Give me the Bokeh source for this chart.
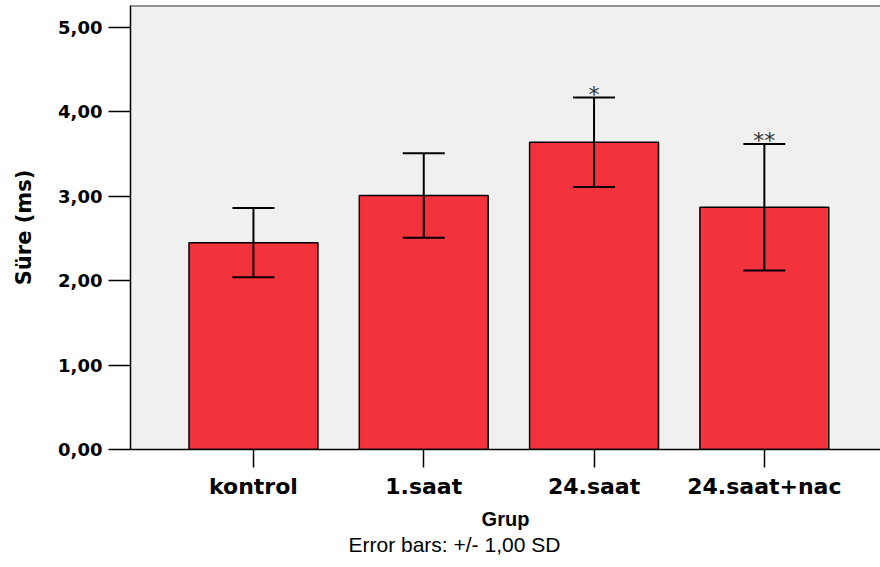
from bokeh.plotting import figure
from bokeh.models import (ColumnDataSource, Whisker, TeeHead, Range1d, FixedTicker,
                          Title, Span)
from bokeh.core.properties import value
from bokeh.embed import file_html
from bokeh.resources import INLINE

# ---- data ----
groups = ["kontrol", "1.saat", "24.saat", "24.saat+nac"]
means = [2.45, 3.01, 3.64, 2.87]
sds = [0.41, 0.50, 0.53, 0.75]
sig_marks = ["", "", "*", "**"]
y_ticks = [0, 1, 2, 3, 4, 5]
y_tick_labels = ["0,00", "1,00", "2,00", "3,00", "4,00", "5,00"]
y_title = "Süre (ms)"
x_title = "Grup"
footnote = "Error bars: +/- 1,00 SD"

xpos = list(range(1, len(groups) + 1))
src = ColumnDataSource(dict(
    x=xpos, mean=means,
    upper=[m + s for m, s in zip(means, sds)],
    lower=[m - s for m, s in zip(means, sds)],
    sig=sig_marks,
))

p = figure(width=880, height=567, output_backend="svg", toolbar_location=None,
           x_range=Range1d(0.278, 4.682), y_range=Range1d(0, 5.26),
           min_border_left=130, min_border_right=0, min_border_top=5,
           min_border_bottom=118)
p.background_fill_color = "#F0F0F0"
p.border_fill_color = "white"
p.outline_line_color = None
p.grid.visible = False

p.vbar(x="x", top="mean", width=0.757, source=src, fill_color="#F2333B",
       line_color="black", line_width=1.5)

w = Whisker(source=src, base="x", upper="upper", lower="lower",
            line_width=2, line_color="black", level="annotation",
            upper_head=TeeHead(size=42, line_width=2, line_color="black"),
            lower_head=TeeHead(size=42, line_width=2, line_color="black"))
p.add_layout(w)

p.text(x="x", y="upper", text="sig", source=src, text_align="center",
       text_baseline="alphabetic", text_font=value("DejaVu Sans"),
       text_font_size="22px", text_color="#333333", y_offset=-3)

# top border
p.add_layout(Span(location=5.26, dimension="width", line_color="#333333", line_width=2))

# y axis
ya = p.yaxis[0]
ya.ticker = FixedTicker(ticks=y_ticks)
ya.major_label_overrides = {t: l for t, l in zip(y_ticks, y_tick_labels)}
ya.major_label_text_font = "DejaVu Sans"
ya.major_label_text_font_style = "bold"
ya.major_label_text_font_size = "18px"
ya.major_label_text_color = "black"
ya.major_tick_out = 22
ya.major_tick_in = 0
ya.minor_tick_line_color = None
ya.major_tick_line_width = 1.5
ya.axis_line_width = 1.5
ya.axis_line_color = "black"
ya.major_tick_line_color = "black"
ya.major_label_standoff = 6
ya.axis_label = y_title
ya.axis_label_text_font = "DejaVu Sans"
ya.axis_label_text_font_style = "bold"
ya.axis_label_text_font_size = "21px"
ya.axis_label_text_color = "black"
ya.axis_label_standoff = 19

# x axis
xa = p.xaxis[0]
xa.ticker = FixedTicker(ticks=xpos)
xa.major_label_overrides = {x: g for x, g in zip(xpos, groups)}
xa.major_label_text_font = "DejaVu Sans"
xa.major_label_text_font_style = "bold"
xa.major_label_text_font_size = "22px"
xa.major_label_text_color = "black"
xa.major_tick_out = 18
xa.major_tick_in = 0
xa.minor_tick_line_color = None
xa.major_tick_line_width = 1.5
xa.axis_line_width = 1.5
xa.axis_line_color = "black"
xa.major_tick_line_color = "black"
xa.major_label_standoff = 6
xa.axis_label = x_title
xa.axis_label_text_font = "Liberation Sans"
xa.axis_label_text_font_style = "bold"
xa.axis_label_text_font_size = "20px"
xa.axis_label_text_color = "black"
xa.axis_label_standoff = 6

p.add_layout(Title(text=footnote, align="left", offset=218, standoff=0,
                   vertical_align="top",
                   text_font="Liberation Sans", text_font_style="normal",
                   text_font_size="21px", text_color="black"), "below")

open("out.html", "w").write(file_html(p, INLINE))
